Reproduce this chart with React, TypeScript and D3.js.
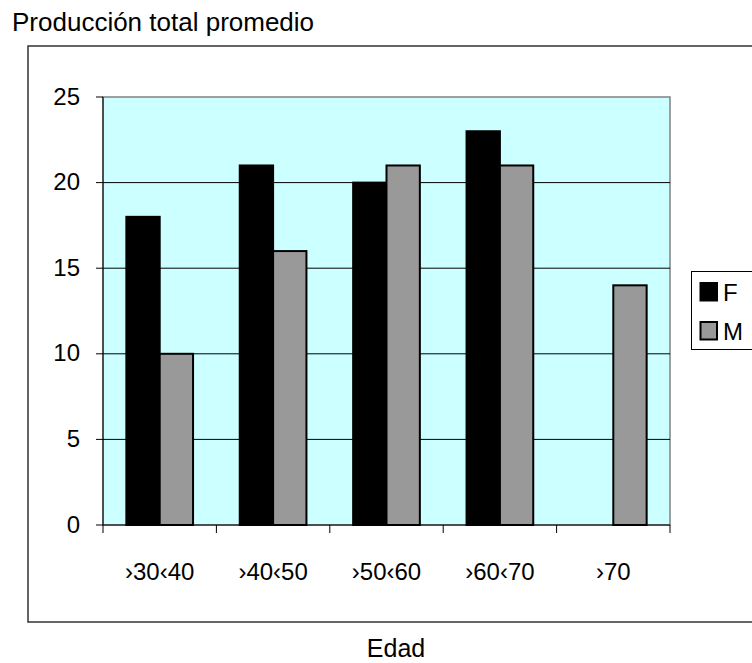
import React from "react";
import * as d3 from "d3";

const categories = ["›30‹40", "›40‹50", "›50‹60", "›60‹70", "›70"];
const seriesNames = ["F", "M"];
const valuesF: (number | null)[] = [18, 21, 20, 23, null];
const valuesM: (number | null)[] = [10, 16, 21, 21, 14];
const yTicks = [0, 5, 10, 15, 20, 25];

const W = 752;
const H = 663;
const plot = { left: 103, top: 97, right: 670, bottom: 525 };
const FONT = "'Liberation Sans', Arial, sans-serif";
const colors: Record<string, string> = { F: "#000000", M: "#999999" };

export default function App() {
  const x0 = d3
    .scaleBand<string>()
    .domain(categories)
    .range([plot.left, plot.right])
    .paddingInner(0)
    .paddingOuter(0);
  const groupW = x0.bandwidth() / 1.7; // gap width 70%
  const x1 = d3.scaleBand<string>().domain(seriesNames).range([0, groupW]);
  const y = d3.scaleLinear().domain([0, 25]).range([plot.bottom, plot.top]);

  const series = [
    { name: "F", values: valuesF },
    { name: "M", values: valuesM },
  ];

  const catEdges = categories.map((c) => x0(c)!).concat([plot.right]);

  return (
    <svg
      width={W}
      height={H}
      style={{ position: "absolute", left: 0, top: 0, display: "block" }}
      fontFamily={FONT}
    >
      <rect x={0} y={0} width={W} height={H} fill="#ffffff" />
      {/* chart area frame */}
      <rect x={28} y={46} width={W} height={576} fill="none" stroke="#333" strokeWidth={1.5} />
      <text x={12} y={31} fontSize={26} fill="#000">Producción total promedio</text>

      {/* plot area */}
      <rect
        x={plot.left}
        y={plot.top}
        width={plot.right - plot.left}
        height={plot.bottom - plot.top}
        fill="#ccffff"
        stroke="#808080"
        strokeWidth={1.5}
      />
      {yTicks.filter((t) => t > 0 && t < 25).map((t) => (
        <line key={t} x1={plot.left} x2={plot.right} y1={y(t)} y2={y(t)} stroke="#000" strokeWidth={1} />
      ))}

      {/* bars */}
      {series.map((s) =>
        s.values.map((v, i) => {
          if (v == null) return null;
          const cx = x0(categories[i])! + (x0.bandwidth() - groupW) / 2 + x1(s.name)!;
          return (
            <rect
              key={s.name + i}
              x={cx}
              y={y(v)}
              width={x1.bandwidth()}
              height={y(0) - y(v)}
              fill={colors[s.name]}
              stroke="#000"
              strokeWidth={2}
            />
          );
        })
      )}

      {/* y axis */}
      <line x1={plot.left} x2={plot.left} y1={plot.top} y2={plot.bottom} stroke="#000" strokeWidth={1} />
      {yTicks.map((t) => (
        <g key={t}>
          <line x1={plot.left - 7} x2={plot.left} y1={y(t)} y2={y(t)} stroke="#000" strokeWidth={1} />
          <text x={80} y={y(t) - 1} dy="0.36em" textAnchor="end" fontSize={24} fill="#000">
            {t}
          </text>
        </g>
      ))}

      {/* x axis */}
      <line x1={plot.left} x2={plot.right} y1={plot.bottom} y2={plot.bottom} stroke="#000" strokeWidth={1} />
      {catEdges.map((e, i) => (
        <line key={i} x1={e} x2={e} y1={plot.bottom} y2={plot.bottom + 8} stroke="#000" strokeWidth={1} />
      ))}
      {categories.map((c) => (
        <text
          key={c}
          x={x0(c)! + x0.bandwidth() / 2}
          y={571}
          dy="0.36em"
          textAnchor="middle"
          fontSize={24}
          fill="#000"
        >
          {c}
        </text>
      ))}
      <text x={396} y={648} dy="0.36em" textAnchor="middle" fontSize={25} fill="#000">
        Edad
      </text>

      {/* legend */}
      <rect x={691.5} y={271.5} width={W} height={78} fill="#fff" stroke="#000" strokeWidth={1} />
      {seriesNames.map((n, i) => (
        <g key={n}>
          <rect
            x={700.5}
            y={283 + i * 39}
            width={16.5}
            height={17.5}
            fill={colors[n]}
            stroke="#000"
            strokeWidth={2}
          />
          <text x={723} y={292 + i * 39} dy="0.36em" fontSize={24} fill="#000">
            {n}
          </text>
        </g>
      ))}
    </svg>
  );
}
